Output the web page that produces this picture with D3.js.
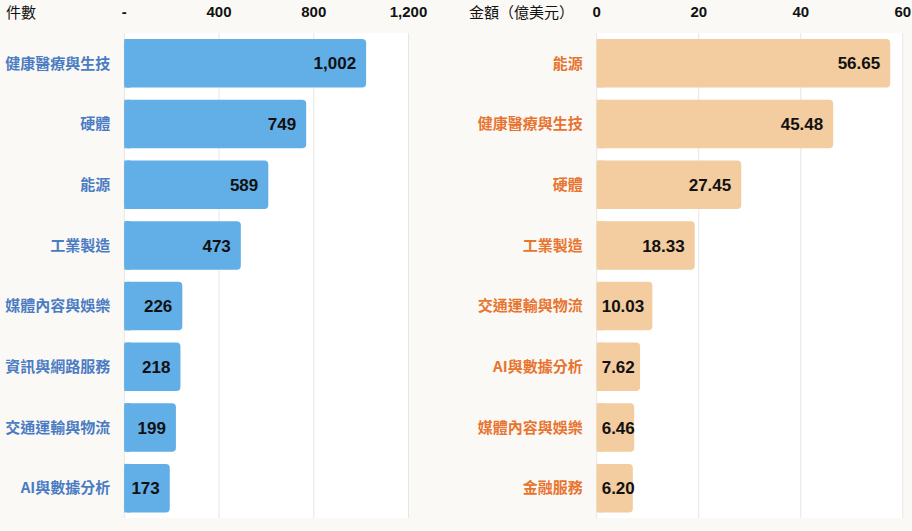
<!DOCTYPE html>
<html>
<head>
<meta charset="utf-8">
<script src="https://cdn.jsdelivr.net/npm/d3@7"></script>
<style>
  body { margin: 0; background: #faf9f6; }
  svg { display: block; }
</style>
</head>
<body>
<svg id="chart"></svg>
<script>
// left panel: number of deals
const countCategories = ["健康醫療與生技", "硬體", "能源", "工業製造", "媒體內容與娛樂", "資訊與網路服務", "交通運輸與物流", "AI與數據分析"];
const countValues = [1002, 749, 589, 473, 226, 218, 199, 173];
const countTicks = [0, 400, 800, 1200];

// right panel: amount (100M USD)
const amountCategories = ["能源", "健康醫療與生技", "硬體", "工業製造", "交通運輸與物流", "AI與數據分析", "媒體內容與娛樂", "金融服務"];
const amountValues = [56.65, 45.48, 27.45, 18.33, 10.03, 7.62, 6.46, 6.20];
const amountTicks = [0, 20, 40, 60];

const W = 912, H = 531;
const svg = d3.select("#chart").attr("width", W).attr("height", H);
const cjk = "'Noto Sans CJK TC', 'Noto Sans CJK SC', sans-serif";
const num = "'Liberation Sans', Arial, sans-serif";
const barExtra = 4.5; // bars run a little past their value, as in the original

const drawPanel = (opts) => {
    let x = d3.scaleLinear().domain(opts.domain).range(opts.range);
    let y = d3.scaleBand().domain(opts.cats).range([33, 518.5]).paddingInner(0.2).paddingOuter(0.1);

    // plot area
    svg.append("rect")
        .attr("x", opts.range[0]).attr("y", 33)
        .attr("width", opts.range[1] - opts.range[0]).attr("height", 485)
        .attr("fill", "#ffffff");

    // gridlines
    svg.append("g").selectAll("line")
        .data(opts.ticks)
        .enter().append("line")
        .attr("x1", d => x(d)).attr("x2", d => x(d))
        .attr("y1", 33).attr("y2", 518)
        .attr("stroke", "#e6e6e6")
        .attr("stroke-width", 1);

    // top tick labels
    svg.append("g").selectAll("text")
        .data(opts.ticks)
        .enter().append("text")
        .attr("x", d => x(d))
        .attr("y", 17)
        .attr("text-anchor", "middle")
        .attr("font-family", num)
        .attr("font-weight", "bold")
        .attr("font-size", "15px")
        .attr("fill", "#111")
        .text(opts.tickFmt);

    svg.append("text")
        .attr("x", opts.titleX)
        .attr("y", 18)
        .attr("font-family", cjk)
        .attr("font-size", "15px")
        .attr("fill", "#111")
        .text(opts.title);

    let rows = svg.append("g").selectAll("g")
        .data(opts.cats)
        .enter().append("g");

    rows.append("rect")
        .attr("x", x(0))
        .attr("y", d => y(d))
        .attr("width", (d, i) => x(opts.vals[i]) - x(0) + barExtra)
        .attr("height", y.bandwidth())
        .attr("rx", 4)
        .attr("fill", opts.barColor);

    // square off the left corners so the bar starts flat on the axis
    rows.append("rect")
        .attr("x", x(0))
        .attr("y", d => y(d))
        .attr("width", 6)
        .attr("height", y.bandwidth())
        .attr("fill", opts.barColor);

    rows.append("text")
        .attr("x", opts.range[0] - 14)
        .attr("y", d => y(d) + y.bandwidth() / 2)
        .attr("dy", "0.35em")
        .attr("text-anchor", "end")
        .attr("font-family", cjk)
        .attr("font-weight", "bold")
        .attr("font-size", "15px")
        .attr("fill", opts.labelColor)
        .text(d => d);

    rows.append("text")
        .attr("y", d => y(d) + y.bandwidth() / 2)
        .attr("dy", "0.36em")
        .attr("text-anchor", "end")
        .attr("font-family", num)
        .attr("font-weight", "bold")
        .attr("font-size", "17px")
        .attr("fill", "#111")
        .text((d, i) => opts.valFmt(opts.vals[i]))
        .attr("x", function(d, i) {
            let w = this.getComputedTextLength();
            return Math.max(x(opts.vals[i]) + barExtra - 10, x(0) + 5 + w);
        });
};

drawPanel({
    cats: countCategories, vals: countValues, ticks: countTicks,
    domain: [0, 1200], range: [124.3, 408.5],
    tickFmt: d => d === 0 ? "-" : d3.format(",")(d),
    valFmt: d3.format(","),
    title: "件數", titleX: 6,
    barColor: "#62aee7", labelColor: "#4b7cc3"
});

drawPanel({
    cats: amountCategories, vals: amountValues, ticks: amountTicks,
    domain: [0, 60], range: [596.7, 902.8],
    tickFmt: d => d,
    valFmt: d3.format(".2f"),
    title: "金額（億美元）", titleX: 469,
    barColor: "#f3cca0", labelColor: "#e8742f"
});
</script>
</body>
</html>
